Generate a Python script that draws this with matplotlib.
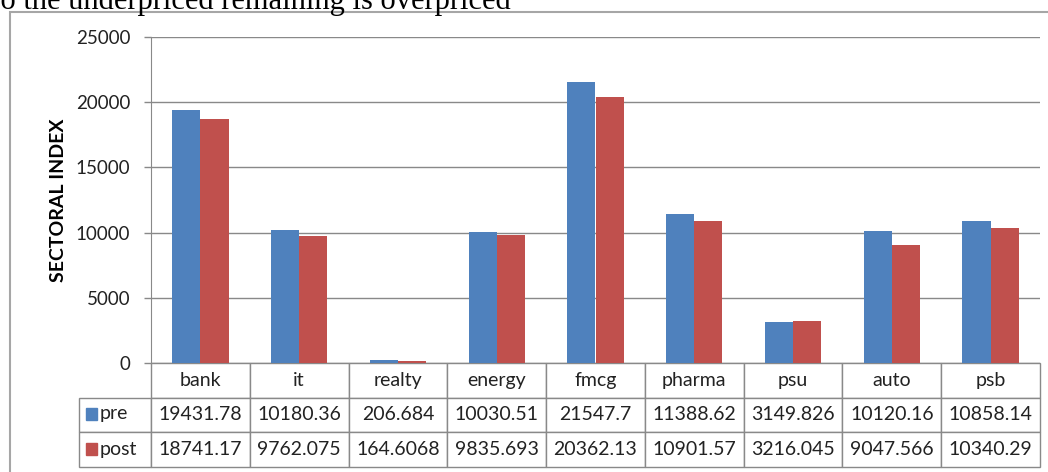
import numpy as np
import matplotlib
matplotlib.use("Agg")
import matplotlib.pyplot as plt
from matplotlib.table import Table
from matplotlib.patches import Rectangle

# sector indices before / after
sectors = ["bank", "it", "realty", "energy", "fmcg", "pharma", "psu", "auto", "psb"]
pre = [19431.78, 10180.36, 206.684, 10030.51, 21547.7, 11388.62, 3149.826, 10120.16, 10858.14]
post = [18741.17, 9762.075, 164.6068, 9835.693, 20362.13, 10901.57, 3216.045, 9047.566, 10340.29]
pre_txt = ["19431.78", "10180.36", "206.684", "10030.51", "21547.7", "11388.62", "3149.826", "10120.16", "10858.14"]
post_txt = ["18741.17", "9762.075", "164.6068", "9835.693", "20362.13", "10901.57", "3216.045", "9047.566", "10340.29"]
yticks = [0, 5000, 10000, 15000, 20000, 25000]

blue = "#4F81BD"
red = "#C0504D"
grey = "#898989"
font = "Lato"

W, H = 1048, 472
fig = plt.figure(figsize=(W / 100, H / 100), dpi=100)

# caption line from the surrounding text, cut by the page edge
fig.text(-16 / W, 1 - 9 / H, "To the underpriced remaining is overpriced",
         family="Liberation Serif", fontsize=22, va="baseline", ha="left")

# chart frame
fig.patches.append(Rectangle((10 / W, -0.1), 1.2, 1 - 12 / H + 0.1, transform=fig.transFigure,
                             fill=False, edgecolor="#a6a6a6", lw=1.5))

left, right, top, bottom = 151, 1040, 37, 363
ax = fig.add_axes([left / W, 1 - bottom / H, (right - left) / W, (bottom - top) / H])

x = np.arange(len(sectors))
w = 1 / 3.5
ax.bar(x - w / 2, pre, w, color=blue, zorder=3)
ax.bar(x + w / 2, post, w, color=red, zorder=3)

ax.set_xlim(-0.5, len(sectors) - 0.5)
ax.set_ylim(0, 25000)
ax.set_yticks(yticks)
ax.set_xticks([])
ax.yaxis.grid(True, color=grey, lw=1, zorder=0)
for s in ["top", "right", "bottom"]:
    ax.spines[s].set_visible(False)
ax.spines["left"].set_color(grey)
ax.tick_params(axis="y", colors=grey, length=5, width=1, labelcolor="#222222",
               labelsize=13.5, pad=10)
for lab in ax.get_yticklabels():
    lab.set_family(font)
ax.set_ylabel("SECTORAL INDEX", family=font, fontsize=14, fontweight="bold", labelpad=6)

# data table under the plot
tleft, tbottom = 79, 467
lab_w = (left - tleft) / (right - left)
col_w = 1 / len(sectors)
tbl = Table(ax, bbox=[-lab_w, -(tbottom - bottom) / (bottom - top), 1 + lab_w, (tbottom - bottom) / (bottom - top)])
for j, name in enumerate(sectors):
    tbl.add_cell(0, j + 1, col_w, 1, text=name, loc="center", edgecolor=grey)
for i, row in enumerate([pre_txt, post_txt]):
    tbl.add_cell(i + 1, 0, lab_w, 1, text="", edgecolor=grey)
    for j, val in enumerate(row):
        tbl.add_cell(i + 1, j + 1, col_w, 1, text=val, loc="center", edgecolor=grey)
tbl.auto_set_font_size(False)
tbl.set_fontsize(14)
for cell in tbl.get_celld().values():
    cell.get_text().set_family(font)
    cell.get_text().set_color("#222222")
    cell.PAD = 0.02
ax.add_table(tbl)

# legend keys inside the table
for k, (name, c) in enumerate([("pre", blue), ("post", red)]):
    yc = 1 - (397 + 35 * k + 17) / H
    fig.patches.append(Rectangle((86 / W, yc - 6 / H), 11 / W, 12 / H, transform=fig.transFigure,
                                 color=c))
    fig.text(100 / W, yc, name, family=font, fontsize=14, va="center", ha="left", color="#222222")

fig.savefig("out.png", dpi=100)
